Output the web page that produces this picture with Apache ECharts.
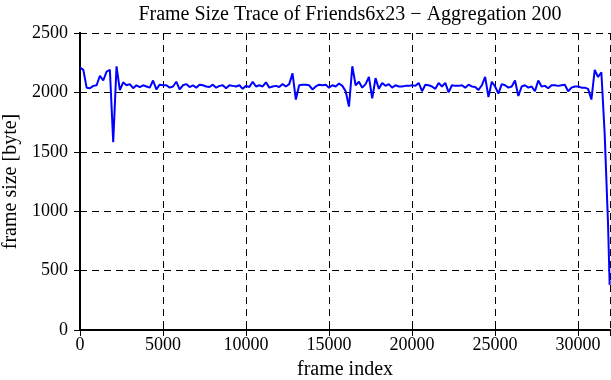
<!DOCTYPE html>
<html>
<head>
<meta charset="utf-8">
<script src="https://cdn.jsdelivr.net/npm/echarts@6/dist/echarts.min.js"></script>
<style>
  html, body { margin: 0; padding: 0; background: #fff; }
  #chart { width: 611px; height: 380px; }
</style>
</head>
<body>
<div id="chart"></div>
<script>
// frame index step of the aggregated trace
var frameStep = 200;
var lastFrame = 31900;
// aggregated frame sizes in byte, one every 200 frames
var frameSizes = [
  2210, 2190, 2040, 2035, 2055, 2060, 2140, 2100, 2175, 2190,
  1580, 2220, 2020, 2085, 2060, 2070, 2035, 2060, 2045, 2060,
  2050, 2040, 2100, 2025, 2065, 2060, 2060, 2040, 2050, 2090,
  2025, 2060, 2070, 2045, 2060, 2040, 2065, 2060, 2050, 2045,
  2065, 2040, 2055, 2060, 2035, 2060, 2055, 2050, 2060, 2030,
  2055, 2045, 2090, 2050, 2060, 2050, 2085, 2040, 2050, 2055,
  2045, 2070, 2050, 2070, 2160, 1940, 2060, 2065, 2065, 2060,
  2025, 2050, 2065, 2060, 2065, 2040, 2060, 2050, 2075, 2055,
  2010, 1880, 2220, 2060, 2090, 2040, 2070, 2130, 1950, 2120,
  2030, 2080, 2055, 2070, 2040, 2060, 2050, 2050, 2055, 2055,
  2060, 2055, 2080, 2010, 2065, 2060, 2050, 2030, 2080, 2050,
  2080, 2000, 2060, 2055, 2055, 2060, 2040, 2065, 2050, 2045,
  2020, 2060, 2130, 1960, 2090, 2050, 1990, 2070, 2060, 2040,
  2050, 2100, 1970, 2050, 2060, 2040, 2050, 2010, 2100, 2050,
  2055, 2035, 2060, 2060, 2055, 2060, 2065, 2010, 2040, 2050,
  2050, 2040, 2040, 2030, 1940, 2190, 2130, 2170, 1650, 900
];
var lastSize = 380;

var xMax = 31920;
var yMax = 2500;

var points = [];
for (var i = 0; i < frameSizes.length; i++) {
  points.push([i * frameStep, frameSizes[i]]);
}
points.push([lastFrame, lastSize]);

var chart = echarts.init(document.getElementById('chart'));
var font = '"Liberation Serif", "DejaVu Serif", serif';
var dashed = { show: true, lineStyle: { color: '#000', type: [7, 5], width: 1 } };
var plain = function (v) { return String(v); };

chart.setOption({
  animation: false,
  title: {
    text: 'Frame Size Trace of Friends6x23 \u2212 Aggregation 200',
    left: 345, top: 0, textAlign: 'center',
    textStyle: { fontFamily: font, fontSize: 20, fontWeight: 'normal', color: '#000' }
  },
  grid: { left: 80, right: 1, top: 33, bottom: 50, outerBoundsMode: 'none' },
  xAxis: [{
    type: 'value', min: 0, max: xMax, interval: 5000,
    name: 'frame index', nameLocation: 'middle', nameGap: 30,
    nameTextStyle: { fontFamily: font, fontSize: 20, color: '#000' },
    axisLine: { show: true, lineStyle: { color: '#000', width: 2 } },
    axisTick: { show: true, inside: true, length: 6, lineStyle: { color: '#000', width: 1 } },
    axisLabel: { showMaxLabel: false, margin: 6, fontFamily: font, fontSize: 18, color: '#000', formatter: plain },
    splitLine: dashed
  }, {
    type: 'value', position: 'top', min: 0, max: xMax, interval: 5000,
    axisLine: { show: true, lineStyle: { color: '#000', width: 2 } },
    axisTick: { show: true, inside: true, length: 6, lineStyle: { color: '#000', width: 1 } },
    axisLabel: { show: false },
    splitLine: { show: false }
  }],
  yAxis: [{
    type: 'value', min: 0, max: yMax, interval: 500,
    name: 'frame size [byte]', nameLocation: 'middle', nameGap: 55,
    nameTextStyle: { fontFamily: font, fontSize: 20, color: '#000' },
    axisLine: { show: true, lineStyle: { color: '#000', width: 2 } },
    axisTick: { show: true, inside: true, length: 6, lineStyle: { color: '#000', width: 1 } },
    axisLabel: { margin: 12, fontFamily: font, fontSize: 18, color: '#000', formatter: plain },
    splitLine: dashed
  }, {
    type: 'value', position: 'right', min: 0, max: yMax, interval: 500,
    axisLine: { show: true, lineStyle: { color: '#000', width: 2 } },
    axisTick: { show: true, inside: true, length: 6, lineStyle: { color: '#000', width: 1 } },
    axisLabel: { show: false },
    splitLine: { show: false }
  }],
  series: [{
    type: 'line',
    data: points,
    showSymbol: false,
    lineStyle: { color: '#0000ff', width: 2 },
    itemStyle: { color: '#0000ff' }
  }]
});
</script>
</body>
</html>
